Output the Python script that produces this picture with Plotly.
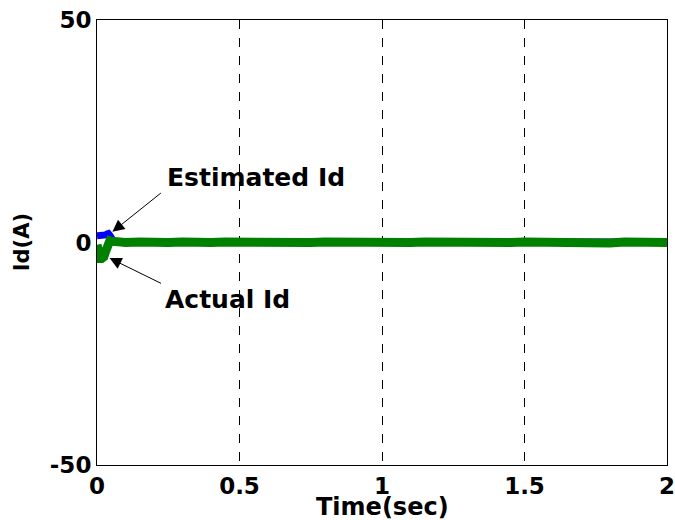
import plotly.graph_objects as go

# ---- data ----
t_est = [0.0, 0.005, 0.01, 0.015, 0.02, 0.025, 0.03, 0.035, 0.04, 0.045, 0.05, 0.055, 0.06,
         0.1, 0.2, 0.3, 0.4, 0.5, 0.6, 0.7, 0.8, 0.9, 1.0, 1.1, 1.2, 1.3, 1.4, 1.5, 1.6,
         1.7, 1.8, 1.9, 2.0]
id_est = [1.5, 1.5, 1.5, 1.5, 1.5, 1.6, 1.7, 1.9, 2.0, 1.6, 0.9, 0.3, 0.1,
          0.1, 0.2, 0.1, 0.2, 0.1, 0.2, 0.1, 0.1, 0.2, 0.1, 0.2, 0.1, 0.2, 0.1, 0.1, 0.2,
          0.1, 0.2, 0.1, 0.1]

t_act = [0.0, 0.004, 0.008, 0.012, 0.016, 0.02, 0.024, 0.028, 0.032, 0.036, 0.04, 0.045,
         0.05, 0.06, 0.08, 0.1, 0.15, 0.2, 0.25, 0.3, 0.35, 0.4, 0.45, 0.5, 0.55, 0.6, 0.65,
         0.7, 0.75, 0.8, 0.85, 0.9, 0.95, 1.0, 1.05, 1.1, 1.15, 1.2, 1.25, 1.3, 1.35, 1.4,
         1.45, 1.5, 1.55, 1.6, 1.65, 1.7, 1.75, 1.8, 1.85, 1.9, 1.95, 2.0]
id_act = [-0.5, -2.8, -3.5, -3.6, -3.6, -3.5, -3.2, -2.4, -1.2, -0.3, 0.2, 0.4,
          0.3, 0.2, 0.1, 0.0, 0.1, -0.1, 0.0, 0.1, -0.1, 0.0, 0.1, 0.0, -0.1, 0.1, 0.0,
          -0.1, 0.0, 0.1, 0.0, -0.1, 0.1, 0.0, -0.1, 0.0, 0.1, 0.0, -0.1, 0.1, 0.0, -0.1,
          0.0, 0.1, 0.0, -0.1, 0.1, 0.0, 0.0, -0.1, 0.1, 0.0, -0.1, 0.0]

x_ticks = [0, 0.5, 1, 1.5, 2]
x_ticklabels = ["0", "0.5", "1", "1.5", "2"]
y_ticks = [-50, 0, 50]
y_ticklabels = ["-50", "0", "50"]

FONT = "DejaVu Sans"
BOLD = dict(family=FONT, color="black", weight="bold")

fig = go.Figure()
fig.add_trace(go.Scatter(x=t_est, y=id_est, mode="lines", name="Estimated Id",
                         line=dict(color="rgb(0,0,255)", width=7)))
fig.add_trace(go.Scatter(x=t_act, y=id_act, mode="lines", name="Actual Id",
                         line=dict(color="rgb(0,128,0)", width=9)))

# arrows
fig.add_annotation(x=0.054, y=2.4, ax=50, ay=-40, xref="x", yref="y", text="",
                   showarrow=True, arrowhead=2, arrowsize=2.4, arrowwidth=1, arrowcolor="black")
fig.add_annotation(x=0.044, y=-3.5, ax=53, ay=26, xref="x", yref="y", text="",
                   showarrow=True, arrowhead=2, arrowsize=2.4, arrowwidth=1, arrowcolor="black")
# labels
fig.add_annotation(x=0.24, y=14.5, xref="x", yref="y", text="Estimated Id", showarrow=False,
                   xanchor="left", yanchor="middle", font=dict(BOLD, size=25))
fig.add_annotation(x=0.233, y=-12.7, xref="x", yref="y", text="Actual Id", showarrow=False,
                   xanchor="left", yanchor="middle", font=dict(BOLD, size=25))
# axis titles
fig.add_annotation(x=0.5, y=-0.095, xref="paper", yref="paper", text="Time(sec)",
                   showarrow=False, xanchor="center", yanchor="middle",
                   font=dict(BOLD, size=24))
fig.add_annotation(x=-0.132, y=0.5, xref="paper", yref="paper", text="Id(A)",
                   showarrow=False, xanchor="center", yanchor="middle", textangle=-90,
                   font=dict(BOLD, size=21))

fig.update_layout(
    width=675, height=520,
    margin=dict(l=97, r=8, t=20, b=55, autoexpand=False),
    paper_bgcolor="white", plot_bgcolor="white",
    showlegend=False,
    font=dict(family=FONT, color="black"),
)
fig.update_xaxes(range=[0, 2], tickvals=x_ticks, ticktext=x_ticklabels,
                 showline=True, linecolor="black", linewidth=1, mirror=True,
                 showgrid=True, gridcolor="black", gridwidth=1, griddash="dash",
                 zeroline=False, ticks="", automargin=False, ticklabeloverflow="allow",
                 tickfont=dict(BOLD, size=23))
fig.update_yaxes(range=[-50, 50], tickvals=y_ticks, ticktext=y_ticklabels,
                 showline=True, linecolor="black", linewidth=1, mirror=True,
                 showgrid=False, zeroline=False, ticks="", automargin=False,
                 ticklabeloverflow="allow",
                 tickfont=dict(BOLD, size=23))

# remove the browser's default 8px body margin so the figure fills the 675x520 window
fig.write_html("out.html",
               config={"displayModeBar": False},
               post_script="document.body.style.margin='0';"
                           "document.body.style.overflow='hidden';")
